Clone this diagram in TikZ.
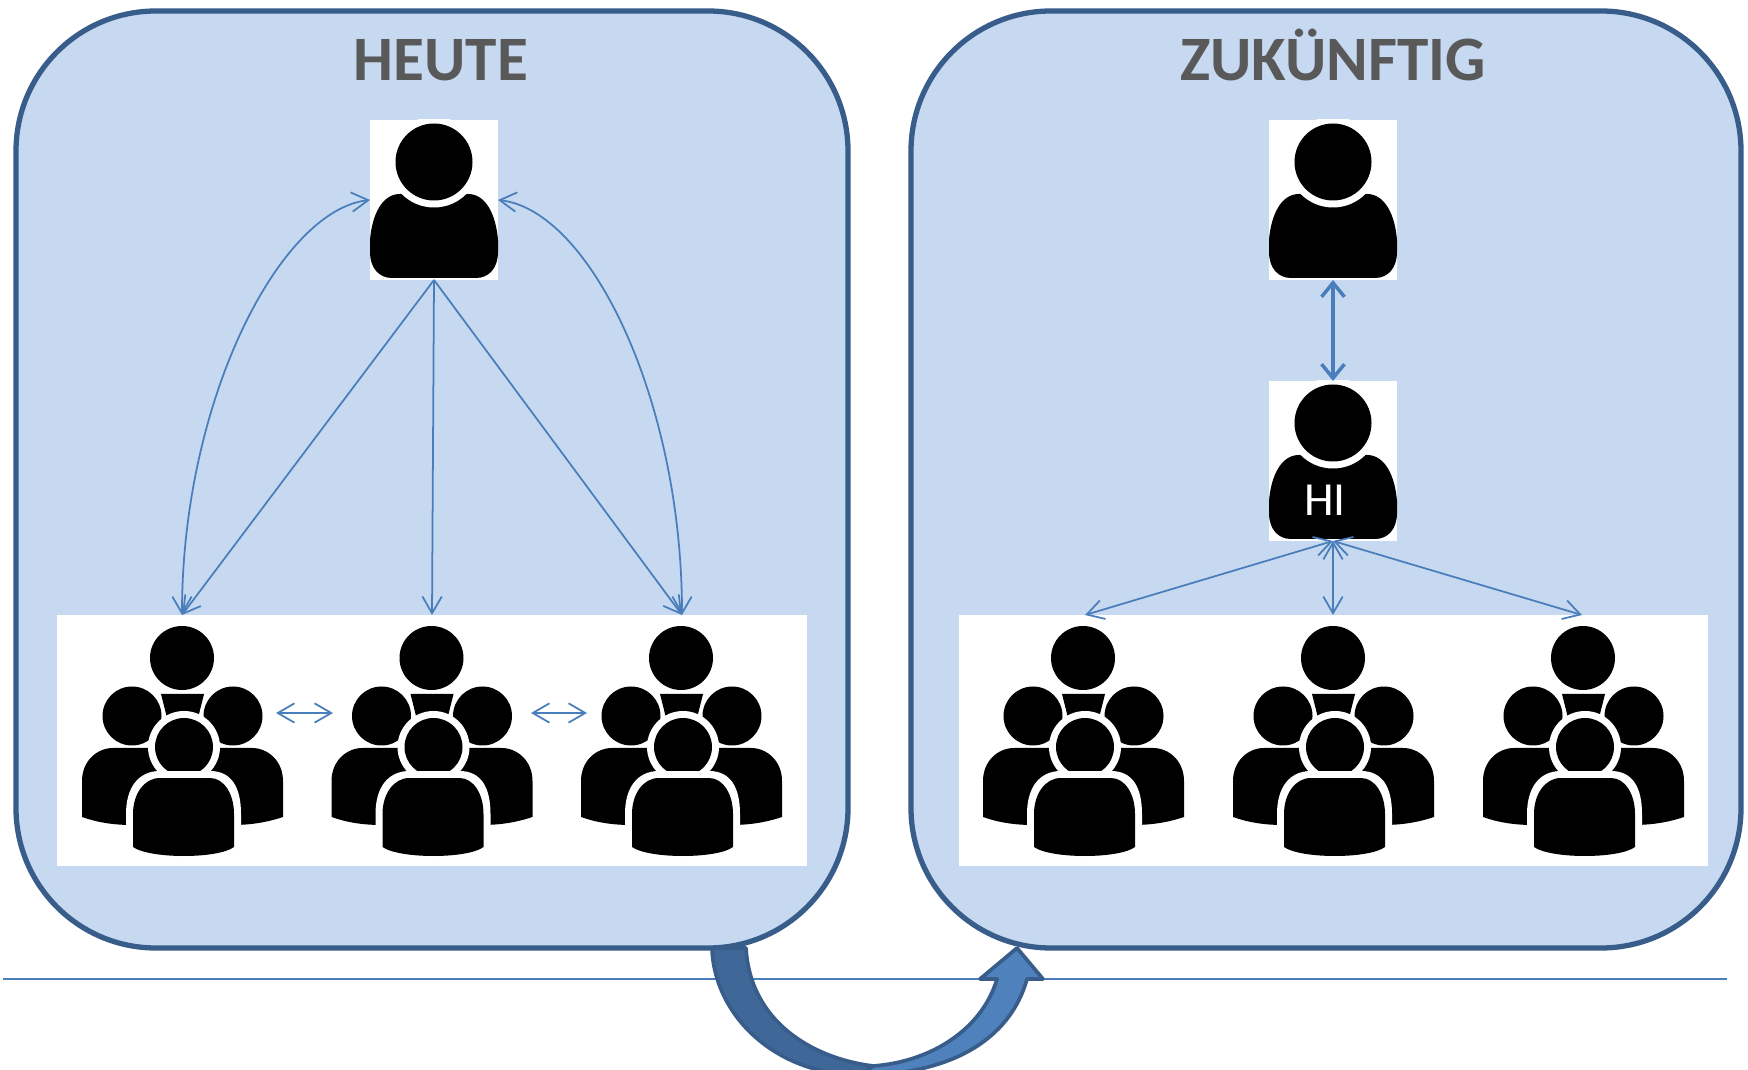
\documentclass[tikz,border=0pt]{standalone}
\usepackage{fontspec}
\setmainfont{Carlito}
\usetikzlibrary{arrows.meta}
\definecolor{panelfill}{HTML}{C6D9F1}
\definecolor{paneldraw}{HTML}{385D8A}
\definecolor{linkblue}{HTML}{4A7EBB}
\definecolor{headgray}{HTML}{595959}
\definecolor{bendlight}{HTML}{4F81BD}
\definecolor{benddark}{HTML}{3F6797}
\tikzset{
    panel/.style={draw=paneldraw,line width=3pt,fill=panelfill,rounded corners=2.8cm},
    heading/.style={anchor=base,text=headgray,font=\fontsize{36}{36}\selectfont\bfseries},
    link/.style={draw=linkblue,line width=1pt,{Straight Barb[length=9.5pt,width=11pt]}-{Straight Barb[length=9.5pt,width=11pt]}},
    linkend/.style={draw=linkblue,line width=1pt,-{Straight Barb[length=9.5pt,width=11pt]}},
    linkthick/.style={draw=linkblue,line width=2pt,{Straight Barb[length=8pt,width=13pt]}-{Straight Barb[length=8pt,width=13pt]}},
    sweep/.style={draw=paneldraw,line width=2.1pt,line join=round},
    person/.pic={
        \fill[white] (-64,-80) rectangle (64,80);
        \begin{scope}
            \clip (-64,-80) rectangle (64,80);
            \fill[black] (-64,52) .. controls (-64,68) and (-55,78) .. (-42,78)
                -- (42,78) .. controls (55,78) and (64,68) .. (64,52)
                -- (64,40) .. controls (62,15) and (52,-6) .. (34,-6)
                -- (-34,-6) .. controls (-52,-6) and (-62,15) .. (-64,40) -- cycle;
            \fill[white] (0,-38) circle (45.5);
            \fill[black] (0,-38) circle (38.5);
        \end{scope}
    },
    crowd/.pic={
        % back row
        \fill[black] (0,0) circle (32);
        \fill[black] (-21,36) -- (22,36) -- (16,60) -- (-15,60) -- cycle;
        \fill[white] (-50,58) circle (33) (51,58) circle (33);
        \fill[black] (-50,58) circle (29.5);
        \fill[black] (51,58) circle (29.5);
        \fill[black] (-100,159) -- (-100,123) .. controls (-100,103) and (-85,90) .. (-69,90)
            -- (70,90) .. controls (86,90) and (101,103) .. (101,123)
            -- (101,159) .. controls (86,164) and (70,167) .. (50,167)
            -- (-50,167) .. controls (-70,167) and (-86,164) .. (-100,159) -- cycle;
        % front figure
        \fill[white] (2,89) circle (36);
        \fill[black] (2,89) circle (29);
        \fill[white] (-56,198) -- (-56,156) .. controls (-56,130) and (-44,113) .. (-22,113)
            -- (28,113) .. controls (50,113) and (59,130) .. (59,156) -- (59,198) -- cycle;
        \fill[black] (-49,189) -- (-49,156) .. controls (-49,136) and (-38,120) .. (-22,120)
            -- (28,120) .. controls (42,120) and (52,136) .. (52,156)
            -- (52,189) .. controls (36,201) and (-32,201) .. (-49,189) -- cycle;
    }
}
\begin{document}
\begin{tikzpicture}[x=0.02cm,y=-0.02cm]
    \useasboundingbox (0,0) rectangle (1748,1070);
    \fill[white] (0,0) rectangle (1748,1070);
    % base line
    \draw[linkblue,line width=1pt] (3,979) -- (1727,979);
    \draw[panel] (16,11) rectangle (848,948);
    \draw[panel] (911,11) rectangle (1741,948);
    \node[heading] (heute) at (441,81) {HEUTE};
    \node[heading] (zukunft) at (1333,81) {ZUKÜNFTIG};

    % bands and figures
    \fill[white] (57,615) rectangle (807,866);
    \fill[white] (959,615) rectangle (1708,866);
    \foreach \x in {182,431.5,681,1083,1333,1583}
        \pic at (\x,658) {crowd};
    \pic at (434,200) {person};
    \pic at (1333,200) {person};
    \pic at (1333,461) {person};
    \node[text=white,font=\fontsize{27}{27}\selectfont,inner sep=0pt] (hi) at (1325,500) {HI};

    % named anchors
    \coordinate (bossL) at (370,200);
    \coordinate (bossR) at (498,200);
    \coordinate (bossB) at (434,280);
    \coordinate (teamA) at (182,615);
    \coordinate (teamB) at (432,615);
    \coordinate (teamC) at (682,615);
    \coordinate (topB) at (1333,280);
    \coordinate (hiT) at (1333,381);
    \coordinate (hiB) at (1333,541);
    \coordinate (teamD) at (1085,615);
    \coordinate (teamE) at (1333,615);
    \coordinate (teamF) at (1582,615);

    \draw[linkend] (bossB) -- (teamA);
    \draw[linkend] (bossB) -- (teamB);
    \draw[linkend] (bossB) -- (teamC);
    \draw[link] (teamA) .. controls (182,400) and (280,210) .. (bossL);
    \draw[link] (teamC) .. controls (682,400) and (590,210) .. (bossR);
    \draw[linkthick] (topB) -- (hiT);
    \draw[link] (hiB) -- (teamD);
    \draw[link] (hiB) -- (teamE);
    \draw[link] (hiB) -- (teamF);
    \coordinate (sideA) at (276,713);
    \coordinate (sideB) at (333,713);
    \coordinate (sideC) at (531,713);
    \coordinate (sideD) at (587,713);
    \draw[link] (sideA) -- (sideB);
    \draw[link] (sideC) -- (sideD);

    % curved arrow
    \begin{scope}
        \clip (0,0) rectangle (1748,1070);
        \filldraw[sweep,fill=bendlight] (860,1075) .. controls (950,1075) and (1010,1040) .. (1027,979)
            -- (1043,979) -- (1017,948) -- (980,979) -- (997,979)
            .. controls (982,1030) and (930,1062) .. (873,1066) -- cycle;
        \filldraw[sweep,fill=benddark] (712,948) .. controls (714,1015) and (775,1075) .. (860,1075)
            -- (873,1066) .. controls (810,1058) and (750,1020) .. (746,948) -- cycle;
    \end{scope}
\end{tikzpicture}
\end{document}
